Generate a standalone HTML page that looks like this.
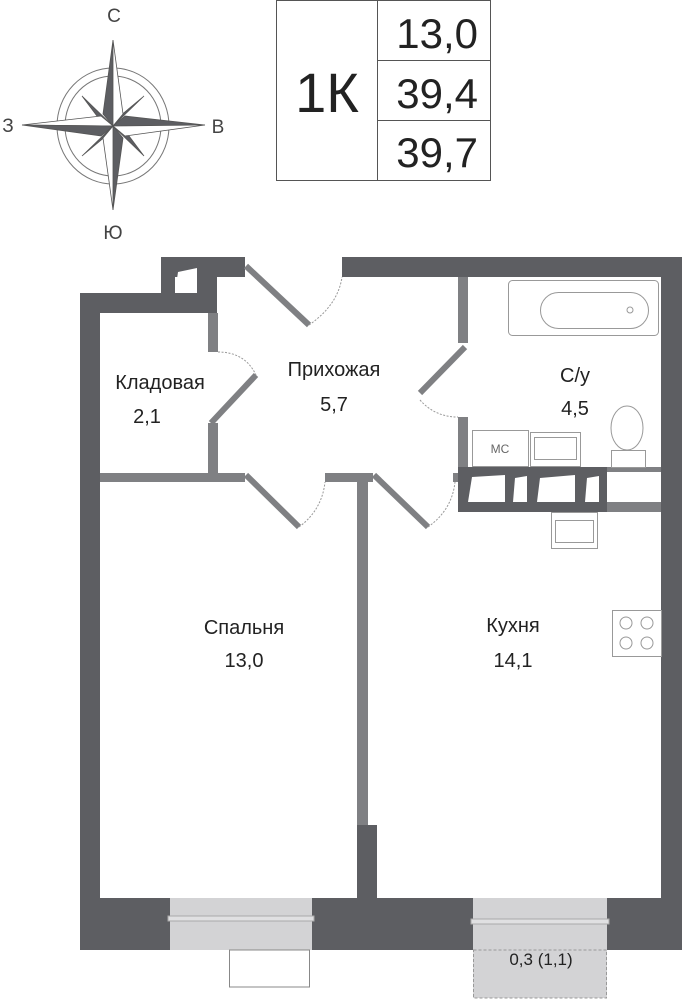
<!DOCTYPE html>
<html><head><meta charset="utf-8"><style>
html,body{margin:0;padding:0;background:#fff;}
svg{display:block;}
text{font-family:"Liberation Sans Narrow","Liberation Sans",sans-serif;fill:#222;}
</style></head><body>
<svg width="682" height="1000" viewBox="0 0 682 1000" xmlns="http://www.w3.org/2000/svg">
<!-- compass -->
<g stroke="#777" fill="none" stroke-width="1">
<ellipse cx="113" cy="126" rx="56" ry="58"/>
<ellipse cx="113" cy="126" rx="48" ry="50"/>
</g>
<g stroke="#555" stroke-width="0.8">
<polygon points="113,126 82,96 100,120" fill="#5d5e62"/>
<polygon points="113,126 144,96 120,116" fill="#5d5e62"/>
<polygon points="113,126 82,156 106,136" fill="#5d5e62"/>
<polygon points="113,126 144,156 126,132" fill="#5d5e62"/>
<polygon points="113,40 103,114 113,126" fill="#5d5e62"/>
<polygon points="113,40 123,114 113,126" fill="#fff"/>
<polygon points="113,210 123,138 113,126" fill="#5d5e62"/>
<polygon points="113,210 103,138 113,126" fill="#fff"/>
<polygon points="22,125 101,116 113,126" fill="#fff"/>
<polygon points="22,125 101,136 113,126" fill="#5d5e62"/>
<polygon points="205,125 125,116 113,126" fill="#5d5e62"/>
<polygon points="205,125 125,136 113,126" fill="#fff"/>
</g>
<g font-size="19" fill="#444">
<text x="114" y="22" text-anchor="middle" style="fill:#444">С</text>
<text x="113" y="239" text-anchor="middle" style="fill:#444">Ю</text>
<text x="8" y="132" text-anchor="middle" style="fill:#444">З</text>
<text x="218" y="133" text-anchor="middle" style="fill:#444">В</text>
</g>
<!-- table -->
<g stroke="#555" stroke-width="1" fill="none">
<rect x="276.5" y="0.5" width="214" height="180"/>
<line x1="377.5" y1="0" x2="377.5" y2="180"/>
<line x1="377" y1="60.5" x2="490" y2="60.5"/>
<line x1="377" y1="120.5" x2="490" y2="120.5"/>
</g>
<text x="327" y="112" font-size="56" text-anchor="middle">1К</text>
<text x="478" y="48" font-size="42" text-anchor="end">13,0</text>
<text x="478" y="108" font-size="42" text-anchor="end">39,4</text>
<text x="478" y="167" font-size="42" text-anchor="end">39,7</text>

<!-- light partitions -->
<g fill="#7f8083">
<rect x="208" y="313" width="10" height="39"/>
<rect x="208" y="423" width="10" height="52"/>
<rect x="100" y="473" width="145" height="9"/>
<rect x="325" y="473" width="48" height="9"/>
<rect x="357" y="482" width="11" height="343"/>
<rect x="453" y="473" width="7" height="9"/>
<rect x="458" y="277" width="10" height="66"/>
<rect x="458" y="417" width="10" height="56"/>
<rect x="607" y="467" width="55" height="5"/>
<rect x="607" y="502" width="55" height="10"/>
</g>
<!-- dark walls -->
<g fill="#5d5e62">
<rect x="342" y="257" width="340" height="20"/>
<rect x="661" y="257" width="21" height="693"/>
<rect x="161" y="257" width="84" height="20"/>
<rect x="161" y="257" width="14" height="36"/>
<rect x="197" y="257" width="20" height="56"/>
<rect x="80" y="293" width="137" height="20"/>
<rect x="80" y="293" width="20" height="657"/>
<rect x="80" y="898" width="602" height="52"/>
<rect x="357" y="825" width="20" height="73"/>
<rect x="458" y="467" width="149" height="45"/>
</g>
<!-- vent -->
<polygon points="175,293 178,272 197,268 197,293" fill="#fff"/>
<!-- shelf openings -->
<g fill="#fff">
<polygon points="468,502 472,477 505,475 505,502"/>
<polygon points="513,502 515,478 527,476 527,502"/>
<polygon points="537,502 540,478 575,475 575,502"/>
<polygon points="585,502 587,478 599,476 599,502"/>
<polygon points="607,502 617,478 661,472 661,502"/>
</g>
<!-- windows -->
<g fill="#d3d3d5">
<rect x="170" y="898" width="142" height="52"/>
<rect x="473" y="898" width="134" height="52"/>
<rect x="473" y="950" width="134" height="48"/>
</g>
<g stroke="#aaa" fill="#e0e0e2" stroke-width="1">
<rect x="168" y="916" width="146" height="5"/>
<rect x="471" y="919" width="138" height="5"/>
</g>
<rect x="473.5" y="950" width="133" height="48" fill="none" stroke="#999" stroke-dasharray="3,2"/>
<rect x="229.5" y="950" width="80" height="37" fill="none" stroke="#888"/>
<text x="541" y="965" font-size="17" text-anchor="middle">0,3 (1,1)</text>

<!-- doors -->
<g stroke="#7f8083" stroke-width="6" stroke-linecap="butt">
<line x1="246" y1="266" x2="309" y2="325"/>
<line x1="256" y1="375" x2="211" y2="423"/>
<line x1="465" y1="347" x2="420" y2="393"/>
<line x1="246" y1="475" x2="299" y2="527"/>
<line x1="374" y1="475" x2="428" y2="527"/>
</g>
<g stroke="#999" stroke-width="1" fill="none" stroke-dasharray="2,1.5">
<path d="M309,325 Q338,305 342,277"/>
<path d="M218,352 Q245,352 256,375"/>
<path d="M420,400 Q435,417 458,417"/>
<path d="M299,527 Q322,510 325,482"/>
<path d="M428,527 Q452,510 455,482"/>
</g>

<!-- fixtures -->
<g stroke="#999" stroke-width="1" fill="none">
<rect x="508.5" y="280.5" width="150" height="55" rx="4"/>
<rect x="540.5" y="292.5" width="108" height="36" rx="18"/>
<circle cx="630" cy="310" r="3"/>
<ellipse cx="627" cy="428" rx="16" ry="22"/>
<rect x="611.5" y="450.5" width="34" height="17"/>
<rect x="472.5" y="430.5" width="56" height="36"/>
<rect x="530.5" y="432.5" width="50" height="34"/>
<rect x="534.5" y="437.5" width="42" height="22"/>
<rect x="551.5" y="512.5" width="46" height="36"/>
<rect x="555.5" y="520.5" width="38" height="22"/>
<rect x="612.5" y="610.5" width="49" height="46"/>
<circle cx="626" cy="623" r="6"/><circle cx="647" cy="623" r="6"/>
<circle cx="626" cy="643" r="6"/><circle cx="647" cy="643" r="6"/>
</g>
<text x="500" y="453" font-size="12" text-anchor="middle" style="fill:#666">МС</text>

<!-- labels -->
<g font-size="20">
<text x="160" y="389" text-anchor="middle">Кладовая</text>
<text x="147" y="423" text-anchor="middle">2,1</text>
<text x="334" y="376" text-anchor="middle">Прихожая</text>
<text x="334" y="411" text-anchor="middle">5,7</text>
<text x="575" y="382" text-anchor="middle">С/у</text>
<text x="575" y="415" text-anchor="middle">4,5</text>
<text x="244" y="634" text-anchor="middle">Спальня</text>
<text x="244" y="667" text-anchor="middle">13,0</text>
<text x="513" y="632" text-anchor="middle">Кухня</text>
<text x="513" y="667" text-anchor="middle">14,1</text>
</g>
</svg>
</body></html>
